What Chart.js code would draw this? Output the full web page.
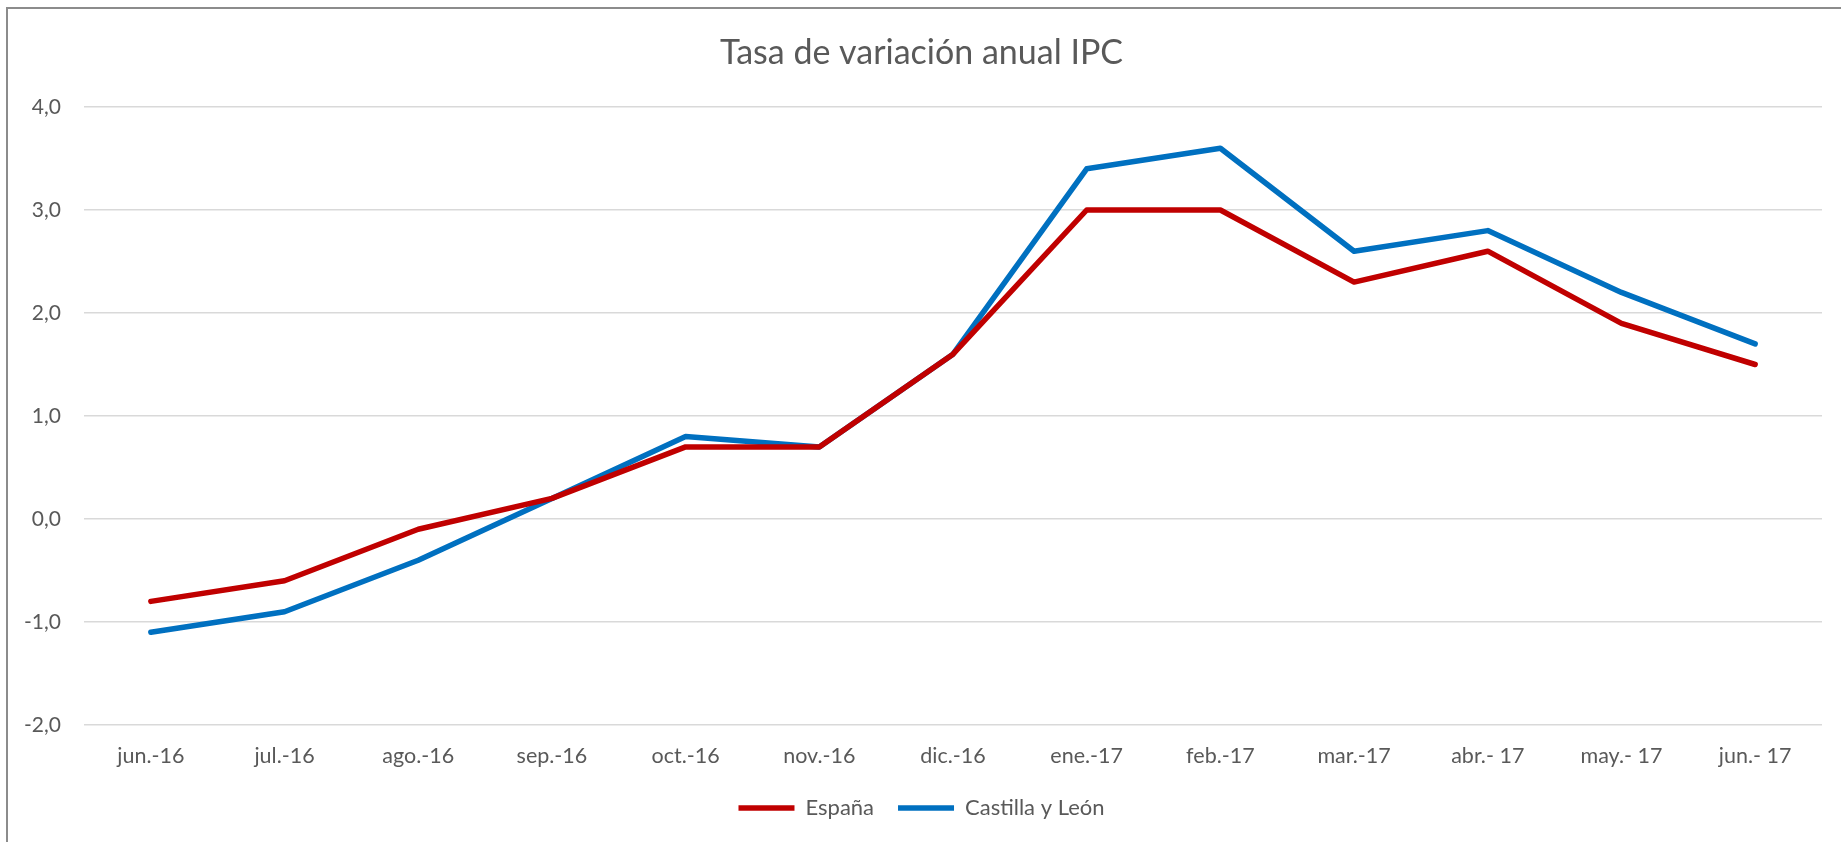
<!DOCTYPE html>
<html>
<head>
<meta charset="utf-8">
<script src="https://cdn.jsdelivr.net/npm/chart.js@4/dist/chart.umd.min.js"></script>
<style>
  html, body { margin: 0; padding: 0; background: #ffffff; overflow: hidden; }
  #frame { position: absolute; left: 6px; top: 7px; width: 1900px; height: 900px;
           border-left: 2px solid #8c8c8c; border-top: 2px solid #8c8c8c; }
  #c { position: absolute; left: 0; top: 0; }
</style>
</head>
<body>
<div id="frame"></div>
<canvas id="c" width="1841" height="842"></canvas>
<script>
const categories = ["jun.-16", "jul.-16", "ago.-16", "sep.-16", "oct.-16", "nov.-16", "dic.-16",
                    "ene.-17", "feb.-17", "mar.-17", "abr.- 17", "may.- 17", "jun.- 17"];
const espana   = [-0.8, -0.6, -0.1, 0.2, 0.7, 0.7, 1.6, 3.0, 3.0, 2.3, 2.6, 1.9, 1.5];
const castilla = [-1.1, -0.9, -0.4, 0.2, 0.8, 0.7, 1.6, 3.4, 3.6, 2.6, 2.8, 2.2, 1.7];
const seriesNames = ["España", "Castilla y León"];
const yMin = -2, yMax = 4, yStep = 1;
const titleText = "Tasa de variación anual IPC";

const FONT = "Lato, 'Open Sans', 'DejaVu Sans', sans-serif";
const TEXT = "#595959";

new Chart(document.getElementById("c"), {
  type: "line",
  data: {
    labels: categories,
    datasets: [
      { label: seriesNames[0], data: espana, borderColor: "#C00000", backgroundColor: "#C00000",
        borderWidth: 5.5, pointRadius: 0, tension: 0, borderCapStyle: "round", borderJoinStyle: "round" },
      { label: seriesNames[1], data: castilla, borderColor: "#0070C0", backgroundColor: "#0070C0",
        borderWidth: 5.5, pointRadius: 0, tension: 0, borderCapStyle: "round", borderJoinStyle: "round" }
    ]
  },
  options: {
    responsive: false,
    animation: false,
    layout: { padding: { left: 21, right: 19, top: 0, bottom: 13 } },
    plugins: {
      tooltip: { enabled: false },
      title: {
        display: true, text: titleText, color: TEXT,
        font: { family: FONT, size: 34, weight: "normal" },
        padding: { top: 32.6, bottom: 33.6 }
      },
      legend: {
        position: "bottom",
        labels: {
          color: TEXT, font: { family: FONT, size: 22 },
          usePointStyle: true, pointStyle: "line", pointStyleWidth: 56,
          boxHeight: 20, padding: 24
        }
      }
    },
    scales: {
      x: {
        offset: true,
        grid: { display: false, drawTicks: false },
        border: { display: false },
        ticks: { color: TEXT, font: { family: FONT, size: 21.5 }, padding: 18, maxRotation: 0, autoSkip: false },
        afterFit: (s) => { s.height = 48; }
      },
      y: {
        min: yMin, max: yMax,
        grid: { color: "#D9D9D9", lineWidth: 1.5, drawTicks: false },
        border: { display: false },
        ticks: {
          stepSize: yStep, color: TEXT, font: { family: FONT, size: 21 }, padding: 23,
          callback: (v) => v.toFixed(1).replace(".", ",")
        },
        afterFit: (s) => { s.width = 63; }
      }
    }
  }
});
</script>
</body>
</html>
